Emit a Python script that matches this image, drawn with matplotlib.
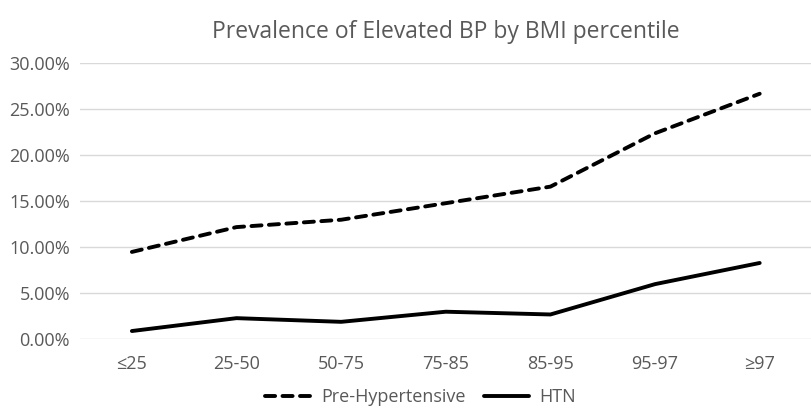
import matplotlib.pyplot as plt
from matplotlib.ticker import PercentFormatter

# ---------- Datos ----------
categories = ["≤25", "25-50", "50-75", "75-85", "85-95", "95-97", "≥97"]
pre_hypertensive = [9.5, 12.2, 13.0, 14.8, 16.6, 22.4, 26.7]
htn = [0.9, 2.3, 1.9, 3.0, 2.7, 6.0, 8.3]

TEXT = "#595959"
GRID = "#d9d9d9"

plt.rcParams["font.family"] = ["Open Sans", "DejaVu Sans"]

fig = plt.figure(figsize=(8.12, 4.09), dpi=100)
ax = fig.add_axes([0.098, 0.1704, 0.902, 0.6746])

x = range(len(categories))
ax.plot(x, pre_hypertensive, color="black", lw=2.8, linestyle=(0, (2.6, 1.9)),
        dash_capstyle="round", solid_capstyle="round", label="Pre-Hypertensive")
ax.plot(x, htn, color="black", lw=2.8, solid_capstyle="round",
        solid_joinstyle="round", label="HTN")

ax.set_xlim(-0.5, len(categories) - 0.5)
ax.set_ylim(0, 30)
ax.set_yticks(range(0, 31, 5))
ax.yaxis.set_major_formatter(PercentFormatter(decimals=2))
ax.set_xticks(list(x))
ax.set_xticklabels(categories)

ax.grid(axis="y", color=GRID, lw=1)
ax.set_axisbelow(True)
for s in ax.spines.values():
    s.set_visible(False)
ax.tick_params(length=0, colors=TEXT, labelsize=13)
ax.tick_params(axis="x", pad=11)
ax.tick_params(axis="y", pad=7)

fig.text(0.549, 0.922, "Prevalence of Elevated BP by BMI percentile",
         ha="center", va="center", color=TEXT, fontsize=16.5)

fig.legend(loc="center", bbox_to_anchor=(0.518, 0.029), ncol=2, frameon=False,
           fontsize=13, labelcolor=TEXT, handlelength=2.5, columnspacing=1.0,
           handletextpad=0.6)

fig.savefig("out.png", dpi=100)
